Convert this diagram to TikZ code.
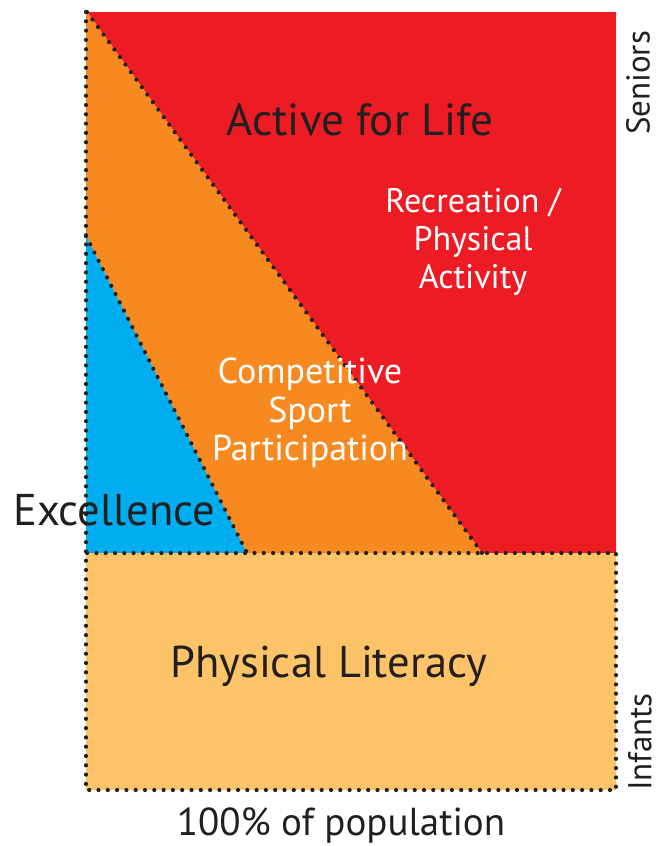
\documentclass[tikz,border=0pt]{standalone}
\usepackage{fontspec}
\setmainfont{PT Sans}

\definecolor{lifered}{HTML}{ED1C24}
\definecolor{sportorange}{HTML}{F6891F}
\definecolor{excelblue}{HTML}{00AEEF}
\definecolor{literacy}{HTML}{FDC368}
\definecolor{inkdark}{HTML}{231F20}

\tikzset{
  dotline/.style={line width=4.2pt, dash pattern=on 0pt off 9.3pt, line cap=round, color=inkdark},
  darklabel/.style={text=inkdark, inner sep=0pt, font=\fontsize{45}{50}\selectfont},
  whitelabel/.style={text=white, inner sep=0pt, align=center, font=\fontsize{34}{38}\selectfont},
  sidelabel/.style={text=inkdark, inner sep=0pt, rotate=90, font=\fontsize{33}{38}\selectfont}
}

\begin{document}
\begin{tikzpicture}[x=1pt,y=-1pt]
\useasboundingbox (0,0) rectangle (657,846);

% the four zones
\fill[lifered] (87,12) -- (616,12) -- (616,553) -- (482,553) -- cycle;
\fill[sportorange] (86,12) -- (87,12) -- (482,553) -- (247,553) -- (86,236) -- cycle;
\fill[excelblue] (86,236) -- (247,553) -- (86,553) -- cycle;
\fill[literacy] (86,553) rectangle (616,790);

% dotted borders
\draw[dotline] (86,12) -- (86,790) -- (616,790) -- (616,553) -- (86,553);
\draw[dotline] (87,12) -- (482,553);
\draw[dotline] (86,236) -- (247,553);

\node[darklabel, anchor=base] (life) at (360,135) {Active for Life};
\node[whitelabel] (recreation) at (473,242) {Recreation /\\Physical\\Activity};
\node[whitelabel, font=\fontsize{36}{38.5}\selectfont] (competitive) at (310,413) {Competitive\\Sport\\Participation};
\node[darklabel, anchor=base west, font=\fontsize{44.5}{50}\selectfont] (excellence) at (13,525) {Excellence};
\node[darklabel, anchor=base, font=\fontsize{44.5}{50}\selectfont] (literacy) at (329,677) {Physical Literacy};
\node[text=inkdark, inner sep=0pt, anchor=base, font=\fontsize{39}{42}\selectfont] (population) at (341,835) {100\% of population};

\node[sidelabel] (seniors) at (638,83) {Seniors};
\node[sidelabel] (infants) at (640,742) {Infants};
\end{tikzpicture}
\end{document}
